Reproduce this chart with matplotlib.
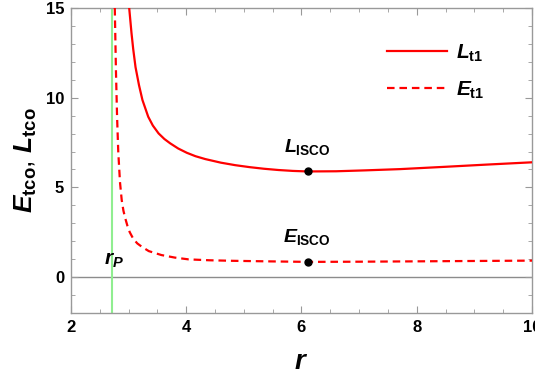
import matplotlib
matplotlib.use("Agg")
import matplotlib.pyplot as plt
from matplotlib.ticker import MultipleLocator

plt.rcParams.update({
    'font.family': 'Liberation Sans',
    'font.weight': 'bold',
    'mathtext.fontset': 'custom',
    'mathtext.it': 'Liberation Sans:italic:bold',
    'mathtext.rm': 'Liberation Sans:bold',
    'mathtext.bf': 'Liberation Sans:bold',
})

# values
r_L = [3.01, 3.05, 3.08, 3.12, 3.18, 3.24, 3.34, 3.42, 3.52, 3.62, 3.72,
       3.86, 4.01, 4.16, 4.33, 4.60, 4.85, 5.10, 5.35, 5.60, 5.85, 6.11,
       6.60, 7.10, 7.71, 8.50, 9.20, 10.0]
L_t1 = [15.0, 13.6, 12.7, 11.7, 10.7, 9.87, 8.94, 8.45, 8.01, 7.7, 7.46,
        7.17, 6.93, 6.74, 6.58, 6.38, 6.24, 6.13, 6.04, 5.97, 5.92, 5.89,
        5.9, 5.95, 6.02, 6.15, 6.27, 6.4]

r_E = [2.76, 2.78, 2.80, 2.82, 2.85, 2.88, 2.91, 2.94, 2.98, 3.02, 3.08,
       3.15, 3.23, 3.35, 3.57, 3.80, 4.04, 4.40, 4.80, 5.40, 6.11, 7.0,
       8.0, 9.0, 10.0]
E_t1 = [15.0, 11.5, 8.9, 7.0, 5.3, 4.3, 3.7, 3.3, 2.85, 2.5, 2.14,
        1.88, 1.69, 1.45, 1.23, 1.09, 0.99, 0.94, 0.91, 0.88, 0.85, 0.86,
        0.88, 0.90, 0.92]

r_isco = 6.11
L_isco = 5.89
E_isco = 0.85
r_p = 2.72

fig = plt.figure(figsize=(5.35, 3.79), dpi=100)
ax = fig.add_axes([0.1327, 0.1741, 0.8617, 0.8048])

ax.axhline(0, color='#8c8c8c', lw=1.0, zorder=1)
ax.axvline(r_p, color='#90ee90', lw=1.5, zorder=2)

ax.plot(r_L, L_t1, color='red', lw=1.6, label=r'$L_{\mathrm{t1}}$', zorder=3)
ax.plot(r_E, E_t1, color='red', lw=1.6, ls=(0, (3.4, 2.2)),
        label=r'$E_{\mathrm{t1}}$', zorder=3)

ax.plot([r_isco, r_isco], [L_isco, E_isco], 'o', color='black', ms=5, zorder=4)

ax.text(r_isco - 0.01, L_isco + 1.1, r'$L_{\mathrm{ISCO}}$', fontsize=14,
        ha='center', va='baseline')
ax.text(r_isco - 0.01, E_isco + 1.1, r'$E_{\mathrm{ISCO}}$', fontsize=14,
        ha='center', va='baseline')
ax.text(r_p + 0.02, 0.67, r'$r_{P}$', fontsize=15, ha='center', va='baseline')

ax.set_xlim(2, 10)
ax.set_ylim(-2, 15)
ax.xaxis.set_major_locator(MultipleLocator(2))
ax.xaxis.set_minor_locator(MultipleLocator(0.5))
ax.yaxis.set_major_locator(MultipleLocator(5))
ax.yaxis.set_minor_locator(MultipleLocator(1))

for s in ax.spines.values():
    s.set_color('#999999')
    s.set_linewidth(1.0)
ax.tick_params(which='both', direction='in', top=True, right=True,
               color='#999999', labelsize=12, pad=5)
ax.tick_params(which='major', length=5)
ax.tick_params(which='minor', length=3)

ax.set_xlabel(r'$r$', fontsize=20, labelpad=10)
ax.set_ylabel(r'$E_{\mathrm{tco}}$, $L_{\mathrm{tco}}$', fontsize=19,
              labelpad=5)

leg = ax.legend(loc='upper left', frameon=False, fontsize=15,
                handlelength=2.9, handletextpad=0.4, labelspacing=0.75,
                borderpad=0, borderaxespad=0,
                bbox_to_anchor=(0.685, 0.887))

fig.savefig('out.png', dpi=100)
